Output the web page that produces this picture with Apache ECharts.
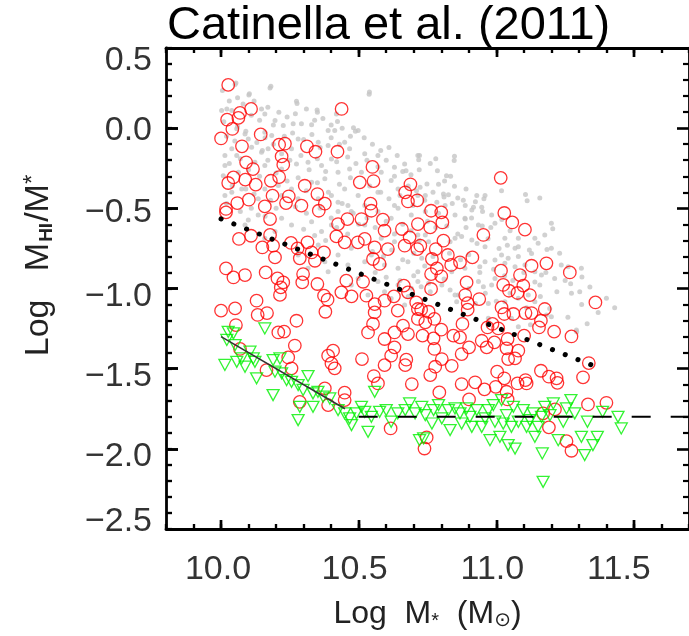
<!DOCTYPE html>
<html>
<head>
<meta charset="utf-8">
<script src="https://cdn.jsdelivr.net/npm/echarts@6/dist/echarts.min.js"></script>
<style>
html,body{margin:0;padding:0;background:#fff;}
#chart{width:689px;height:636px;}
</style>
</head>
<body>
<div id="chart"></div>
<script>
// ---------------- data ----------------
const titleText = 'Catinella et al. (2011)';
const xMajorTicks = [10.0, 10.5, 11.0, 11.5];
const yMajorTicks = [0.5, 0.0, -0.5, -1.0, -1.5, -2.0, -2.5];

// parent sample (grey dots): [log M*, log MHI/M*]
const grayPoints = [
[10.054,0.281],[10.005,0.235],[10.103,0.214],[10.181,0.262],[10.274,0.168],[10.349,0.114],[10.539,0.225],[10.481,0.002],[10.498,-0.015],[10.419,0.089],[10.002,0.11],[10.021,0.12],[10.039,0.11],[10.159,0.089],[10.147,0.12],[10.196,0.048],[10.226,0.016],[10.262,0.027],[10.292,0.027],[10.329,0.021],[10.389,-0.015],[10.413,-0.015],[10.057,-0.004],[10.087,-0.036],[10.099,-0.067],[10.159,-0.025],[10.184,-0.046],[10.111,-0.119],[10.039,-0.129],[10.014,-0.171],[10.057,-0.171],[10.147,-0.15],[10.171,-0.129],[10.256,-0.129],[10.28,-0.067],[10.353,-0.088],[10.389,-0.108],[10.449,-0.088],[10.467,-0.129],[10.522,-0.16],[10.57,-0.171],[10.63,-0.244],[10.667,-0.223],[10.715,-0.171],[10.401,-0.192],[10.365,-0.233],[10.316,-0.212],[10.274,-0.223],[10.22,-0.254],[10.159,-0.233],[10.123,-0.212],[10.063,-0.275],[10.014,-0.233],[10.008,-0.296],[10.039,-0.4],[10.075,-0.379],[10.159,-0.379],[10.208,-0.358],[10.256,-0.379],[10.329,-0.337],[10.377,-0.316],[10.425,-0.275],[10.467,-0.254],[10.51,-0.275],[10.582,-0.275],[10.618,-0.327],[10.643,-0.379],[10.57,-0.4],[10.498,-0.42],[10.449,-0.379],[10.401,-0.42],[10.353,-0.441],[10.28,-0.441],[10.22,-0.42],[10.135,-0.441],[10.014,-0.42],[10.715,-0.42],[10.697,-0.483],[10.63,-0.483],[10.522,-0.483],[10.461,-0.483],[10.425,-0.462],
[10.721,-0.171],[10.848,-0.175],[10.786,-0.265],[10.819,-0.296],[10.834,-0.3],[10.748,-0.348],[10.723,-0.369],[10.848,-0.362],[10.89,-0.379],[11.019,-0.39],[11.106,-0.414],[11.158,-0.435],[10.929,-0.42],[10.959,-0.42],[10.955,-0.441],[10.808,-0.41],[10.826,-0.416],[10.86,-0.435],[10.742,-0.42],[10.887,-0.483],[10.917,-0.493],[10.947,-0.493],[10.784,-0.462],[10.814,-0.483],
[10.099,-0.572],[10.135,-0.541],[10.22,-0.562],[10.256,-0.604],[10.329,-0.583],[10.365,-0.645],[10.401,-0.604],[10.425,-0.52],[10.473,-0.52],[10.522,-0.604],[10.57,-0.52],[10.618,-0.562],[10.643,-0.5],[10.691,-0.541],[10.715,-0.666],[10.63,-0.708],[10.582,-0.687],[10.473,-0.749],[10.425,-0.791],[10.377,-0.833],[10.353,-0.729],[10.316,-0.874],[10.389,-0.895],[10.461,-0.853],[10.522,-0.833],[10.546,-0.791],[10.594,-0.853],[10.643,-0.874],[10.679,-0.833],[10.715,-0.895],[10.498,-0.937],[10.57,-0.957],[10.643,-0.978],[10.691,-0.999],[10.715,-0.957],[10.618,-1.062],[10.667,-1.103],[10.534,-1.04],[10.594,-1.02],[10.473,-0.978],[10.28,-0.791],[10.159,-0.687],[10.087,-0.604],[10.196,-0.645],
[10.742,-0.52],[10.79,-0.531],[10.85,-0.541],[10.886,-0.562],[10.911,-0.51],[10.935,-0.604],[10.983,-0.541],[10.995,-0.593],[11.031,-0.687],[11.08,-0.687],[11.14,-0.687],[11.176,-0.666],[11.2,-0.593],[11.068,-0.749],[11.08,-0.739],[11.128,-0.781],[11.2,-0.749],[11.152,-0.718],[11.019,-0.791],[10.959,-0.739],[10.911,-0.697],[10.874,-0.676],[10.832,-0.708],[10.85,-0.687],[10.742,-0.666],[10.754,-0.708],[10.729,-0.812],[10.838,-0.895],[10.886,-0.874],[10.94,-0.864],[10.959,-0.833],[10.995,-0.822],[11.031,-0.843],[11.043,-0.812],[11.068,-0.864],[11.104,-0.853],[11.14,-0.895],[11.164,-0.916],[11.236,-0.853],[11.261,-0.864],[11.309,-0.874],[11.212,-0.937],[10.935,-0.957],[10.953,-0.989],[10.983,-0.978],[10.995,-0.937],[11.158,-0.978],[11.08,-1.061],[11.116,-1.04],[10.971,-1.093],[11.031,-1.082],[11.273,-1.03],[11.303,-1.02],[11.4,-1.061],[10.727,-0.989],[10.754,-0.968],[10.802,-0.978],[10.832,-1.009],[10.856,-1.082],[10.862,-1.04],[10.924,-1.093],[11.182,-1.166],[11.2,-1.176],[11.194,-1.124],[11.291,-1.259],[10.971,-1.186],[11.055,-1.186],[11.14,-1.082],[11.08,-1.238],[11.292,-1.27],[11.124,-1.226],
[10.051,0.272],[10.101,0.207],[10.178,0.25],[10.276,0.154],[10.35,0.1],[10.538,0.212],[10.423,0.042],[10.488,-0.019],[10.718,-0.197],[10.847,-0.201],[10.672,-0.266],[10.812,-0.33],[10.924,-0.459],[11.112,-0.453],[11.205,-0.627],[11.184,-0.756],[11.311,-0.928],[10.949,-0.61],[10.887,-0.566],
[10.01,0.04],[10.03,0.17],[10.06,0.19],[10.08,0.15],[10.12,0.17],[10.14,0.05],[10.17,0.13],[10.19,0.02],[10.02,-0.05],[10.05,-0.08],[10.09,-0.02],[10.13,-0.09],[10.16,-0.06],[10.19,-0.1],[10.03,-0.22],[10.07,-0.19],[10.1,-0.26],[10.14,-0.3],[10.17,-0.2],[10.2,-0.28],[10.04,-0.36],[10.09,-0.38],[10.12,-0.41],[10.18,-0.45],[10.02,-0.47],[10.07,-0.52],[10.11,-0.5],[10.16,-0.55],[10.2,-0.5],[10.06,0.01],[10.15,-0.14],[10.11,0.08],
[10.21,0.1],[10.24,0.07],[10.27,0.09],[10.31,0.12],[10.34,0.05],[10.37,0.06],[10.4,0.02],[10.44,0.0],[10.23,-0.05],[10.26,-0.03],[10.3,-0.07],[10.33,-0.04],[10.36,-0.12],[10.4,-0.06],[10.43,-0.1],[10.47,-0.05],[10.22,-0.16],[10.25,-0.2],[10.29,-0.17],[10.32,-0.26],[10.35,-0.19],[10.38,-0.27],[10.42,-0.21],[10.46,-0.18],[10.49,-0.22],[10.24,-0.33],[10.28,-0.31],[10.31,-0.39],[10.35,-0.34],[10.39,-0.4],[10.43,-0.35],[10.47,-0.31],[10.27,-0.49],[10.31,-0.53],[10.36,-0.5],[10.4,-0.56],[10.44,-0.47],[10.48,-0.53],[10.3,-0.63],[10.34,-0.67],[10.38,-0.7],[10.42,-0.62],[10.46,-0.66],[10.5,-0.6],
[10.52,-0.06],[10.55,-0.1],[10.58,-0.14],[10.61,-0.12],[10.64,-0.17],[10.53,-0.2],[10.57,-0.24],[10.6,-0.2],[10.63,-0.3],[10.66,-0.27],[10.69,-0.29],[10.72,-0.26],[10.76,-0.22],[10.78,-0.19],[10.54,-0.36],[10.58,-0.4],[10.61,-0.44],[10.65,-0.42],[10.68,-0.36],[10.71,-0.39],[10.74,-0.45],[10.77,-0.4],[10.79,-0.35],[10.53,-0.56],[10.56,-0.62],[10.6,-0.58],[10.63,-0.66],[10.66,-0.6],[10.69,-0.64],[10.72,-0.7],[10.75,-0.58],[10.78,-0.62],[10.55,-0.77],[10.59,-0.8],[10.62,-0.76],[10.66,-0.82],[10.7,-0.78],[10.74,-0.86],[10.77,-0.8],[10.56,-0.9],[10.6,-0.93],[10.65,-0.95],[10.7,-0.92],[10.76,-1.02],[10.68,-1.05],
[10.81,-0.43],[10.84,-0.47],[10.88,-0.45],[10.91,-0.56],[10.95,-0.52],[10.98,-0.62],[11.02,-0.57],[11.05,-0.64],[10.82,-0.61],[10.86,-0.66],[10.89,-0.62],[10.93,-0.72],[10.97,-0.69],[11.01,-0.75],[11.04,-0.73],[11.08,-0.8],[11.12,-0.76],[10.83,-0.78],[10.87,-0.82],[10.9,-0.79],[10.94,-0.9],[10.99,-0.88],[11.03,-0.92],[11.06,-0.95],[11.1,-0.9],[11.14,-0.96],[11.18,-0.9],[10.81,-0.94],[10.85,-1.04],[10.9,-1.0],[10.96,-1.03],[11.0,-1.08],[11.05,-1.03],[11.11,-1.12],[11.16,-1.05],[11.22,-1.02],[11.25,-0.95],
[11.23,-0.78],[11.27,-0.97],[11.31,-1.1],[11.34,-0.99],[11.37,-1.15],[11.43,-1.12],[11.26,-1.18],[11.33,-1.22]
];

// HI detections (red open circles)
const detectedPoints = [
[10.026,0.27],[10.109,0.12],[10.069,0.095],[10.022,0.053],[10.063,0.064],[10.041,-0.005],[10.0,-0.064],[10.144,-0.039],[10.076,-0.113],[10.211,-0.103],[10.232,-0.097],[10.312,-0.113],[10.343,-0.147],[10.423,-0.147],[10.438,0.12],[10.22,-0.176],[10.226,-0.228],[10.091,-0.213],[10.116,-0.255],[10.045,-0.307],[10.026,-0.342],[10.088,-0.321],[10.126,-0.352],[10.181,-0.328],[10.211,-0.305],[10.304,-0.359],[10.504,-0.338],[10.55,-0.242],[10.554,-0.33],[10.688,-0.35],[10.669,-0.4],[10.713,-0.45],[10.679,-0.457],[10.187,-0.421],[10.246,-0.425],[10.35,-0.411],[10.101,-0.446],[10.059,-0.467],[10.159,-0.488],[10.236,-0.467],[10.292,-0.483],[10.377,-0.471],[10.543,-0.471],[10.018,-0.504],
[11.016,-0.31],
[10.018,-0.525],[10.178,-0.567],[10.355,-0.515],[10.425,-0.598],[10.459,-0.567],[10.51,-0.567],[10.546,-0.515],[10.588,-0.571],[10.594,-0.639],[10.657,-0.629],[10.685,-0.681],[10.715,-0.598],[10.065,-0.691],[10.109,-0.671],[10.178,-0.666],[10.189,-0.733],[10.15,-0.744],[10.196,-0.806],[10.254,-0.716],[10.278,-0.75],[10.286,-0.812],[10.314,-0.712],[10.329,-0.775],[10.341,-0.827],[10.374,-0.775],[10.419,-0.675],[10.449,-0.712],[10.497,-0.712],[10.522,-0.691],[10.558,-0.744],[10.552,-0.816],[10.576,-0.847],[10.606,-0.754],[10.667,-0.733],[10.713,-0.754],[10.018,-0.875],[10.045,-0.931],[10.087,-0.916],[10.162,-0.9],[10.205,-0.937],[10.226,-0.962],[10.217,-0.993],[10.214,-1.04],[10.298,-0.91],[10.295,-0.962],[10.35,-0.972],[10.374,-1.045],[10.387,-1.07],[10.379,-1.145],[10.437,-1.024],[10.455,-0.951],[10.516,-0.958],[10.474,-1.049],[10.528,-1.045],[10.558,-1.097],[10.558,-1.149],[10.594,-1.076],[10.628,-1.049],[10.642,-1.138],[10.664,-0.982],[10.679,-1.024],[10.709,-1.087],[10.0,-1.138],[10.051,-1.124],[10.129,-1.076],[10.133,-1.165],[10.167,-1.153],[10.274,-1.201],[10.054,-1.228],[10.208,-1.274],[10.229,-1.269],[10.268,-1.356],[10.244,-1.43],[10.407,-1.388],[10.389,-1.419],[10.512,-1.44],[10.069,-1.377],[10.534,-1.274],[10.552,-1.221],[10.594,-1.315],[10.63,-1.274],[10.661,-1.232],[10.679,-1.284],[10.63,-1.367],[10.618,-1.419],[10.673,-1.444],[10.715,-1.19],[10.715,-1.128],
[10.763,-0.515],[10.8,-0.525],[10.76,-0.619],[10.804,-0.588],[11.029,-0.529],[11.058,-0.588],[11.104,-0.633],[10.953,-0.666],[10.724,-0.733],[10.808,-0.702],[10.78,-0.754],[10.824,-0.791],[10.766,-0.816],[10.868,-0.837],[10.913,-0.806],[10.836,-0.853],[10.784,-0.875],[10.763,-0.91],[10.8,-0.924],[11.128,-0.858],[11.182,-0.843],[11.017,-0.889],[11.086,-0.916],[11.267,-0.9],[10.892,-0.962],[10.763,-1.003],[11.025,-0.978],[11.046,-1.014],[11.098,-0.982],[11.077,-1.028],[11.122,-1.041],[10.887,-1.041],[10.896,-1.091],[10.938,-1.066],[11.36,-1.087],[10.727,-1.132],[10.754,-1.145],[10.742,-1.211],[10.775,-1.19],[10.8,-1.257],[10.732,-1.294],[10.772,-1.311],[10.844,-1.294],[10.868,-1.305],[10.877,-1.221],[10.896,-1.132],[11.019,-1.118],[11.029,-1.159],[11.062,-1.159],[11.106,-1.153],[11.128,-1.153],[11.176,-1.128],[11.162,-1.201],[11.155,-1.243],[10.986,-1.221],[11.007,-1.249],[10.968,-1.243],[11.21,-1.269],[11.273,-1.299],[11.101,-1.294],[10.947,-1.326],[10.965,-1.367],[10.993,-1.336],[11.041,-1.315],[11.037,-1.373],[11.08,-1.388],[11.043,-1.44],[11.068,-1.436],[10.874,-1.409],[10.901,-1.367],[10.775,-1.377],[10.802,-1.44],[10.838,-1.482],[11.336,-1.465],
[10.165,-1.509],[10.256,-1.498],[10.286,-1.707],[10.377,-1.623],[10.389,-1.727],[10.449,-1.65],[10.449,-1.696],[10.401,-1.467],[10.413,-1.498],[10.555,-1.546],[10.57,-1.592],[10.594,-1.478],[10.669,-1.478],[10.693,-1.596],[10.616,-1.873],
[10.76,-1.54],[10.778,-1.488],[10.793,-1.648],[10.874,-1.596],[10.923,-1.585],[10.957,-1.629],[11.003,-1.519],[10.998,-1.613],[11.029,-1.56],[11.037,-1.644],[11.041,-1.692],[11.077,-1.592],[11.106,-1.571],[11.11,-1.592],[10.901,-1.692],[11.162,-1.513],[11.191,-1.55],[11.219,-1.56],[11.222,-1.588],[11.315,-1.554],[11.333,-1.723],[11.4,-1.713],[11.17,-1.779],[11.213,-1.754],[11.191,-1.866],[11.255,-1.952],[11.273,-2.012],[10.747,-1.929],[10.739,-1.998]
];

// HI upper limits (green open down-triangles)
const upperLimitPoints = [
[10.026,-1.27],[10.045,-1.28],[10.021,-1.321],[10.051,-1.353],[10.075,-1.436],[10.105,-1.394],[10.117,-1.436],[10.159,-1.249],[10.189,-1.446],[10.214,-1.436],
[10.014,-1.477],[10.057,-1.457],[10.087,-1.488],[10.129,-1.56],[10.123,-1.457],[10.189,-1.665],[10.196,-1.519],[10.22,-1.529],[10.238,-1.571],[10.256,-1.582],[10.28,-1.602],[10.298,-1.633],[10.316,-1.546],[10.334,-1.654],[10.352,-1.644],[10.371,-1.675],[10.395,-1.686],[10.334,-1.738],[10.28,-1.821],[10.286,-1.738],[10.425,-1.758],[10.449,-1.779],[10.467,-1.81],[10.474,-1.852],[10.492,-1.779],[10.51,-1.738],[10.522,-1.769],[10.534,-1.894],[10.546,-1.8],[10.558,-1.644],[10.576,-1.769],[10.6,-1.758],[10.618,-1.831],[10.642,-1.779],[10.669,-1.758],[10.685,-1.717],[10.705,-1.779],[10.721,-1.946],
[10.729,-1.738],[10.742,-1.79],[10.736,-1.935],[10.772,-1.758],[10.79,-1.727],[10.802,-1.81],[10.826,-1.758],[10.832,-1.883],[10.85,-1.748],[10.868,-1.779],[10.874,-1.842],[10.892,-1.748],[10.911,-1.863],[10.929,-1.758],[10.947,-1.863],[10.971,-1.758],[10.977,-1.946],[10.989,-1.727],[10.995,-1.831],[11.013,-1.925],[11.019,-1.696],[11.037,-1.79],[11.043,-1.977],[11.062,-1.738],[11.068,-1.998],[11.08,-1.831],[11.098,-1.758],[11.11,-1.863],[11.134,-1.779],[11.14,-1.925],[11.164,-1.8],[11.167,-2.029],[11.17,-2.206],[11.176,-1.738],[11.207,-1.717],[11.225,-1.946],[11.243,-1.831],[11.255,-1.748],[11.271,-1.696],[11.285,-1.779],[11.309,-1.925],[11.321,-2.039],[11.331,-1.831],[11.351,-1.977],[11.367,-1.925],[11.386,-1.769],[11.442,-1.8],[11.454,-1.873],[10.766,-1.842],[10.904,-1.8],[10.959,-1.81],[11.025,-1.842],[11.055,-1.863],[11.122,-1.821],[11.152,-1.863],[11.195,-1.79]
];

// fits / limits
const medianLine = [[10.0, -0.566], [11.38, -1.50]];
const limitSlope = [[10.0, -1.30], [10.45, -1.75]];
const limitFlat = [[10.5, -1.80], [11.7, -1.80]];

// ---------------- chart ----------------
const FONT = '"Liberation Sans", Arial, Helvetica, sans-serif';
const X_MIN = 9.8, X_MAX = 11.7, Y_MIN = -2.5, Y_MAX = 0.5;
const LABEL_SIZE = 34, LABEL_COLOR = '#333';
const fmtNum = v => { const s = Math.abs(v).toFixed(1); return v < -1e-9 ? '\u2212' + s : s; };
const keyOf = v => 'k' + Math.round((v + 5) * 10);
const lineCol = '#000';

// label nudges in the original figure (pixels): y labels down (+) / up (-), x labels left
const yLabelNudge = { '0.5': 13, '0.0': 2, '-0.5': 4, '-1.0': 8, '-1.5': 8, '-2.0': 8, '-2.5': -7 };
const xLabelNudge = { '10.0': 3, '10.5': 4, '11.0': 4, '11.5': 15 };

const yRich = {}, xRich = {};
yMajorTicks.forEach(v => {
  const d = yLabelNudge[v.toFixed(1)] || 0;
  yRich[keyOf(v)] = { fontSize: LABEL_SIZE, color: LABEL_COLOR, fontFamily: FONT,
    padding: d >= 0 ? [2 * d, 0, 0, 0] : [0, 0, -2 * d, 0] };
});
xMajorTicks.forEach(v => {
  const d = xLabelNudge[v.toFixed(1)] || 0;
  xRich[keyOf(v)] = { fontSize: LABEL_SIZE, color: LABEL_COLOR, fontFamily: FONT, padding: [0, 2 * d, 0, 0] };
});

const hidden = { axisLine: { show: false, onZero: false }, axisLabel: { show: false }, splitLine: { show: false } };

function xAxisPair(pos) {
  const bottom = pos === 'bottom';
  return [
    { type: 'value', position: pos, min: X_MIN, max: X_MAX, interval: 0.1,
      axisLine: { show: true, onZero: false, lineStyle: { color: lineCol, width: 2.8 } },
      axisTick: { show: true, inside: true, length: 5, lineStyle: { color: lineCol, width: 2.2 } },
      axisLabel: { show: false }, splitLine: { show: false } },
    { type: 'value', position: pos, min: X_MIN, max: X_MAX,
      axisLine: { show: false, onZero: false },
      axisTick: { show: true, inside: true, length: 9, customValues: xMajorTicks, lineStyle: { color: lineCol, width: 2.4 } },
      axisLabel: bottom ? { show: true, customValues: xMajorTicks, margin: 24,
        formatter: v => '{' + keyOf(v) + '|' + fmtNum(v) + '}',
        fontSize: LABEL_SIZE, color: LABEL_COLOR, fontFamily: FONT, rich: xRich } : { show: false },
      splitLine: { show: false },
      name: bottom ? 'Log  M{s|*}  (M{o|\u2299})' : '',
      nameLocation: 'middle', nameGap: 68,
      nameTextStyle: { fontSize: 32, color: '#222', fontFamily: FONT, lineHeight: 34, verticalAlign: 'top',
        rich: {
          s: { fontSize: 20, fontFamily: FONT, color: '#222', verticalAlign: 'bottom', lineHeight: 20, padding: [16, 0, 0, 0] },
          o: { fontSize: 20, fontFamily: '"DejaVu Sans", sans-serif', color: '#222', verticalAlign: 'bottom', lineHeight: 20, padding: [16, 0, 0, 0] }
        } } },
    // duplicate tick rows drawn as outward ticks of axes shifted into the plot (same look as inward ticks)
    Object.assign({ type: 'value', position: pos, offset: -5, min: X_MIN, max: X_MAX, interval: 0.1,
      axisTick: { show: true, inside: false, length: 5, lineStyle: { color: lineCol, width: 2.2 } } }, hidden),
    Object.assign({ type: 'value', position: pos, offset: -9, min: X_MIN, max: X_MAX,
      axisTick: { show: true, inside: false, length: 9, customValues: xMajorTicks, lineStyle: { color: lineCol, width: 2.4 } } }, hidden)
  ];
}

function yAxisDef(pos) {
  const left = pos === 'left';
  return {
    type: 'value', position: pos, min: Y_MIN, max: Y_MAX, interval: 0.5,
    axisLine: { show: true, onZero: false, lineStyle: { color: lineCol, width: 2.8 } },
    axisTick: { show: true, inside: true, length: 12, lineStyle: { color: lineCol, width: 2.6 } },
    minorTick: { show: true, splitNumber: 5, length: 6, lineStyle: { color: lineCol, width: 2.2 } },
    splitLine: { show: false },
    axisLabel: left ? { show: true, margin: 14,
      formatter: v => '{' + keyOf(v) + '|' + fmtNum(v) + '}',
      fontSize: LABEL_SIZE, color: LABEL_COLOR, fontFamily: FONT, rich: yRich } : { show: false },
    name: left ? 'Log   M{hi|HI}/M{st|*}' : '',
    nameLocation: 'middle', nameGap: 110,
    nameTextStyle: { fontSize: 34, color: '#222', fontFamily: FONT, lineHeight: 35, padding: [0, 0, 0, 46],
      rich: {
        hi: { fontSize: 19, fontWeight: 'bold', fontFamily: FONT, color: '#222', verticalAlign: 'bottom', lineHeight: 19, padding: [16, 1, 0, 1] },
        st: { fontSize: 24, fontFamily: FONT, color: '#222', verticalAlign: 'top', lineHeight: 24 }
      } }
  };
}
function yTickRows() {
  return [
    Object.assign({ type: 'value', position: 'left', offset: -12, min: Y_MIN, max: Y_MAX, interval: 0.5,
      axisTick: { show: true, inside: false, length: 12, lineStyle: { color: lineCol, width: 2.6 } } }, hidden),
    Object.assign({ type: 'value', position: 'left', offset: -6, min: Y_MIN, max: Y_MAX, interval: 0.1,
      axisTick: { show: true, inside: false, length: 6, lineStyle: { color: lineCol, width: 2.2 } } }, hidden)
  ];
}

const chart = echarts.init(document.getElementById('chart'));
chart.setOption({
  animation: false,
  title: {
    text: titleText, left: 167, top: 3, padding: 0,
    textStyle: { fontSize: 47, fontWeight: 'normal', color: '#000', fontFamily: FONT }
  },
  grid: { left: 166, top: 48, width: 524, height: 481 },
  xAxis: [...xAxisPair('bottom'), ...xAxisPair('top')],
  yAxis: [yAxisDef('left'), yAxisDef('right'), ...yTickRows()],
  series: [
    { type: 'scatter', name: 'parent', xAxisIndex: 0, yAxisIndex: 0, data: grayPoints,
      symbol: 'circle', symbolSize: 5, itemStyle: { color: '#c6c6c6' }, silent: true, z: 2 },
    { type: 'scatter', name: 'detections', xAxisIndex: 0, yAxisIndex: 0, data: detectedPoints,
      symbol: 'circle', symbolSize: 12.5,
      itemStyle: { color: 'rgba(0,0,0,0)', borderColor: '#ff0000', borderWidth: 1.3 }, silent: true, z: 3 },
    { type: 'scatter', name: 'upper limits', xAxisIndex: 0, yAxisIndex: 0, data: upperLimitPoints,
      symbol: 'triangle', symbolRotate: 180, symbolSize: [12, 11],
      itemStyle: { color: 'rgba(0,0,0,0)', borderColor: '#00f000', borderWidth: 1.3 }, silent: true, z: 4 },
    { type: 'line', name: 'median', xAxisIndex: 0, yAxisIndex: 0, data: medianLine, symbol: 'none', silent: true, z: 5,
      lineStyle: { color: '#000', width: 5, type: [0.1, 13.6], cap: 'round' } },
    { type: 'line', name: 'limit slope', xAxisIndex: 0, yAxisIndex: 0, data: limitSlope, symbol: 'none', silent: true, z: 5,
      lineStyle: { color: '#333', width: 1.5, type: 'solid' } },
    { type: 'line', name: 'limit flat', xAxisIndex: 0, yAxisIndex: 0, data: limitFlat, symbol: 'none', silent: true, z: 5,
      lineStyle: { color: '#000', width: 2, type: [19, 20] } }
  ]
});
</script>
</body>
</html>
